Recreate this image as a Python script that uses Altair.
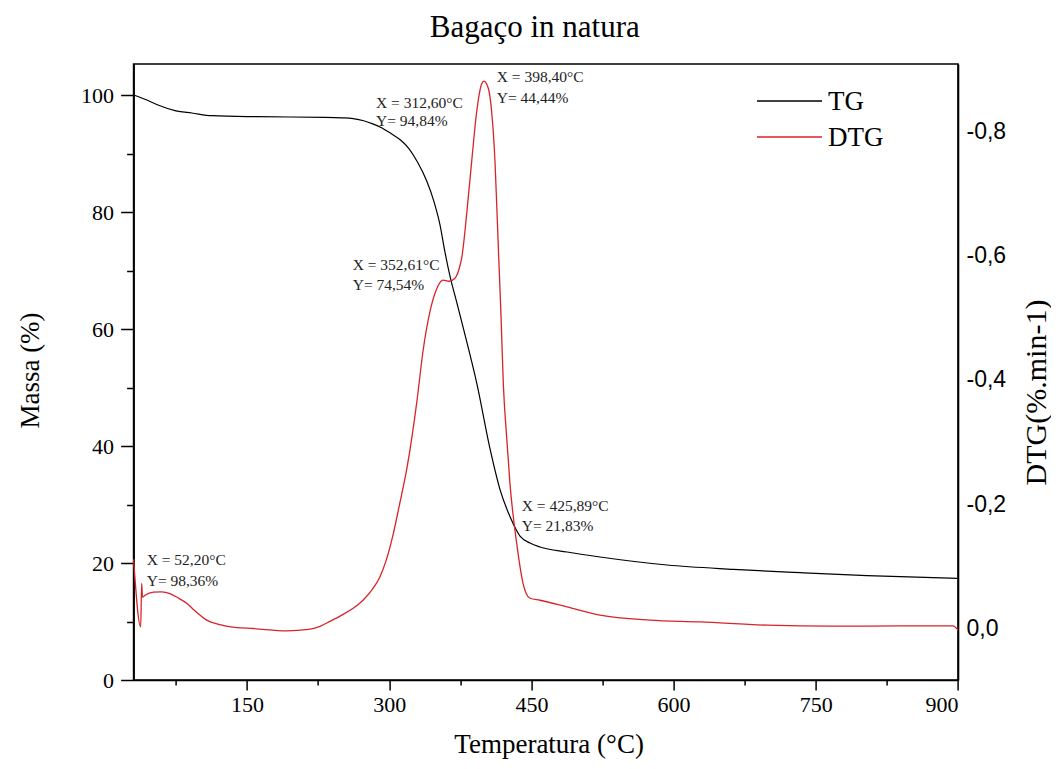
import altair as alt
import pandas as pd

# ---- TG curve (mass %, left axis) ----
tg_temp = [30.4, 45.0, 56.1, 75.0, 92.0, 113.1, 161.6, 232.3, 250.0, 262.0, 273.0, 282.0, 292.0,
           302.0, 312.0, 321.0, 330.0, 339.6, 347.0, 353.6, 359.0, 364.2, 371.2, 380.0, 392.7,
           406.4, 417.0, 427.5, 438.0, 448.6, 459.1, 487.6, 522.4, 593.1, 663.0, 733.6, 804.0, 899.0]
tg_mass = [100.0, 99.1, 98.29, 97.3, 96.92, 96.46, 96.29, 96.19, 96.1, 95.95, 95.6, 95.1, 94.4,
           93.4, 92.3, 90.8, 88.5, 85.3, 81.9, 77.8, 73.0, 69.0, 64.6, 59.0, 50.5,
           39.5, 32.5, 27.9, 24.6, 23.42, 22.74, 21.88, 21.03, 19.66, 18.92, 18.34, 17.83, 17.38]

# ---- DTG curve (%.min-1, right axis) ----
dtg_temp = [30.4, 37.9, 38.9, 39.8, 42.4, 51.2, 60.0, 68.8, 77.0, 86.4, 95.0, 107.5, 120.0, 139.2,
            156.7, 191.9, 215.0, 227.0, 237.6, 250.0, 262.0, 272.4, 282.0, 290.3, 297.0, 304.0,
            311.0, 318.8, 329.3, 335.7, 343.1, 350.4, 356.8, 363.1, 369.4, 373.6, 376.8, 381.8,
            387.0, 392.3, 397.6, 400.0, 404.6, 408.1, 411.6, 413.7, 415.3, 418.0, 420.4, 423.8,
            427.4, 434.5, 441.2, 448.5, 459.1, 487.6, 522.4, 575.1, 627.9, 698.6, 768.2, 838.8,
            894.7, 900.0]
dtg_rate = [-0.111, -0.002, -0.072, -0.050, -0.053, -0.058, -0.0585, -0.0557, -0.049, -0.040, -0.028,
            -0.013, -0.006, -0.001, 0.0005, 0.0043, 0.002, -0.003, -0.011, -0.021, -0.032, -0.045,
            -0.062, -0.083, -0.110, -0.150, -0.200, -0.2586, -0.3663, -0.4466, -0.5108, -0.5478,
            -0.5607, -0.559, -0.5639, -0.5783, -0.5992, -0.6683, -0.7518, -0.8321, -0.8771, -0.8815,
            -0.8696, -0.8321, -0.7518, -0.6715, -0.6072, -0.5012, -0.3936, -0.3100, -0.2329, -0.1365,
            -0.0723, -0.0482, -0.045, -0.0342, -0.0209, -0.0129, -0.0101, -0.0048, -0.0032, -0.0037,
            -0.0037, 0.0032]

# ---- annotations (anchored in T / mass % coordinates) ----
ann_text = ["X = 52,20°C", "Y= 98,36%", "X = 312,60°C", "Y= 94,84%", "X = 398,40°C", "Y= 44,44%",
            "X = 352,61°C", "Y= 74,54%", "X = 425,89°C", "Y= 21,83%"]
ann_temp = [44.2, 44.2, 286.1, 286.1, 413.4, 413.4, 261.5, 261.5, 439.8, 439.8]
ann_mass = [20.5, 17.0, 98.7, 95.6, 103.0, 99.5, 70.9, 67.5, 29.7, 26.4]

series_names = ["TG", "DTG"]
series_colors = ["#000000", "#d8232a"]

tg_df = pd.DataFrame({"T": tg_temp, "v": tg_mass, "serie": "TG"})
dtg_df = pd.DataFrame({"T": dtg_temp, "v": dtg_rate, "serie": "DTG"})
ann_df = pd.DataFrame({"T": ann_temp, "v": ann_mass, "txt": ann_text})
legend_df = pd.DataFrame({"serie": series_names})

SERIF = "Liberation Serif"
SANS = "Liberation Sans"

color_scale = alt.Scale(domain=series_names, range=series_colors)

x_scale = alt.Scale(domain=[30.4, 900], nice=False, zero=False)
x_axis = alt.Axis(
    values=[75, 150, 225, 300, 375, 450, 525, 600, 675, 750, 825, 900],
    labelExpr="datum.value % 150 === 0 ? datum.label : ''",
    tickSize={"condition": {"test": "datum.value % 150 === 0", "value": 10}, "value": 5},
    labelFontSize=22, labelFont=SERIF, labelPadding=4,
    title="Temperatura (°C)", titleFontSize=27, titleX=415, titleY=64,
    titleBaseline="middle", titleAlign="center",
)
x_enc = alt.X("T:Q", scale=x_scale, axis=x_axis)

left_scale = alt.Scale(domain=[0, 105.3], nice=False, zero=False)
left_axis = alt.Axis(
    values=[0, 10, 20, 30, 40, 50, 60, 70, 80, 90, 100],
    labelExpr="datum.value % 20 === 0 ? datum.label : ''",
    tickSize={"condition": {"test": "datum.value % 20 === 0", "value": 13}, "value": 7},
    labelFontSize=22, labelFont=SERIF, labelPadding=7,
    title="Massa (%)", titleFontSize=27, titleX=-103.6, titleY=306,
    titleAngle=270, titleBaseline="middle", titleAlign="center",
)

right_scale = alt.Scale(domain=[-0.909, 0.0835], nice=False, zero=False, reverse=True)
right_axis = alt.Axis(
    orient="right",
    values=[-0.8, -0.6, -0.4, -0.2, 0.0],
    labelExpr="replace(replace(format(datum.value, '.1f'), '.', ','), '\u2212', '-')",
    ticks=False, labelFontSize=23, labelFont=SANS, labelPadding=8,
    title="DTG(%.min-1)", titleFontSize=30, titleX=78, titleY=328,
    titleAngle=270, titleBaseline="middle", titleAlign="center",
)

color_enc = alt.Color("serie:N", scale=color_scale, legend=None)

tg_line = alt.Chart(tg_df).mark_line(strokeWidth=1.2, interpolate="monotone").encode(
    x=x_enc,
    y=alt.Y("v:Q", scale=left_scale, axis=left_axis),
    color=color_enc,
)

ann = alt.Chart(ann_df).mark_text(
    align="left", baseline="middle", font=SERIF, fontSize=15.5, color="#222222"
).encode(
    x=alt.X("T:Q", scale=x_scale, axis=x_axis),
    y=alt.Y("v:Q", scale=left_scale, axis=left_axis),
    text="txt:N",
)

dtg_line = alt.Chart(dtg_df).mark_line(strokeWidth=1.3, interpolate="monotone").encode(
    x=x_enc,
    y=alt.Y("v:Q", scale=right_scale, axis=right_axis),
    color=color_enc,
)

# legend (drawn inside the plot, top right), rows placed by a point scale
legend_y = alt.Y(
    "serie:N",
    scale=alt.Scale(type="point", domain=series_names, range=[37, 73], padding=0),
    axis=None,
)
legend_rule = alt.Chart(legend_df).mark_rule(strokeWidth=1.3).encode(
    y=legend_y, x=alt.value(623.4), x2=alt.value(688.4), color=color_enc,
)
legend_text = alt.Chart(legend_df).mark_text(
    align="left", baseline="middle", font=SERIF, fontSize=27, color="black", dy=1
).encode(
    y=legend_y, x=alt.value(694.4), text="serie:N",
)

left = alt.layer(tg_line, ann)
chart = alt.layer(left, dtg_line, legend_rule, legend_text).resolve_scale(y="independent").properties(
    width=824.4,
    height=616,
    autosize=alt.AutoSizeParams(type="none"),
    padding={"left": 125.6, "top": 56, "right": 93, "bottom": 80},
    title=alt.TitleParams(
        text="Bagaço in natura", font=SERIF, fontSize=31, fontWeight="normal",
        color="black", anchor="middle", baseline="alphabetic", offset=29, dx=-11, dy=33,
    ),
).configure_view(stroke="black", strokeWidth=1.6).configure_axis(
    domainColor="black", domainWidth=1.6, tickColor="black", tickWidth=1.5,
    labelColor="black", titleColor="black", titleFont=SERIF, titleFontWeight="normal",
    grid=False,
)

chart.save("out.html", embed_options={"renderer": "svg", "actions": False})
